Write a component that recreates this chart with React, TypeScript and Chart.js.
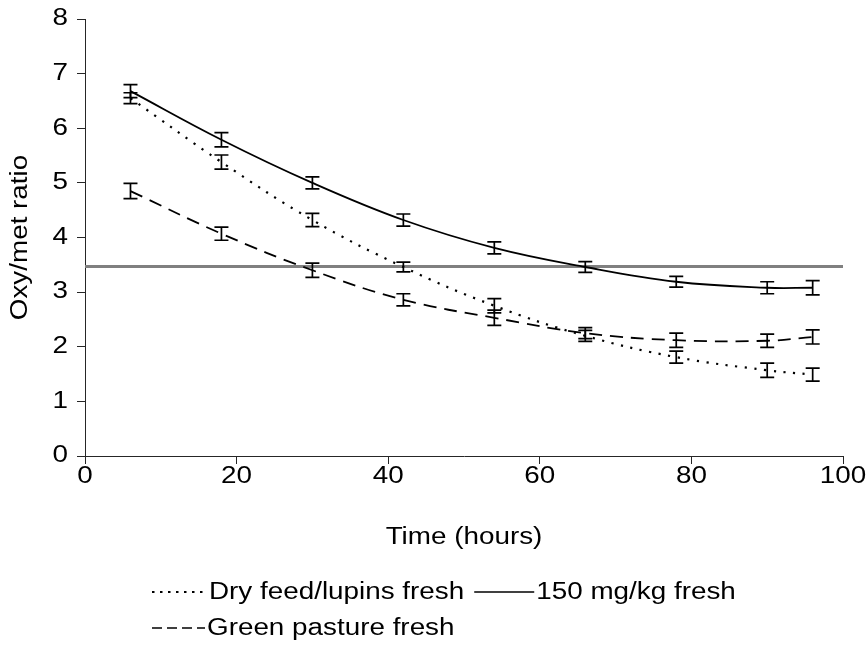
import React, { useEffect, useRef } from "react";
import { Chart, registerables } from "chart.js";

Chart.register(...registerables);

// Sampling times (hours)
const hours = [6, 18, 30, 42, 54, 66, 78, 90, 96];

// Oxy/met ratio per treatment, with standard errors
const dryFeedLupins = [6.55, 5.38, 4.32, 3.46, 2.75, 2.2, 1.81, 1.57, 1.49];
const dryFeedLupinsErr = [0.1, 0.13, 0.12, 0.09, 0.13, 0.1, 0.11, 0.13, 0.12];

const mg150 = [6.68, 5.79, 5.0, 4.32, 3.81, 3.46, 3.19, 3.08, 3.08];
const mg150Err = [0.12, 0.13, 0.11, 0.11, 0.11, 0.1, 0.1, 0.11, 0.13];

const greenPasture = [4.85, 4.07, 3.4, 2.86, 2.53, 2.25, 2.12, 2.11, 2.18];
const greenPastureErr = [0.14, 0.12, 0.13, 0.11, 0.14, 0.1, 0.13, 0.12, 0.13];

// Threshold ratio shown as a reference line
const thresholdRatio = 3.47;

const xTicks = [0, 20, 40, 60, 80, 100];
const yTicks = [0, 1, 2, 3, 4, 5, 6, 7, 8];

const seriesNames = ["Dry feed/lupins fresh", "150 mg/kg fresh", "Green pasture fresh"];
const xTitle = "Time (hours)";
const yTitle = "Oxy/met ratio";

const FONT = '23px "Liberation Sans", Arial, sans-serif';
const STRETCH = 1.21;
const INK = "#000000";
const AXIS = "#262626";

const DOT_DASH = [2.2, 7.5];
const LONG_DASH = [13, 8];

function wideText(
  ctx: CanvasRenderingContext2D,
  text: string,
  x: number,
  y: number,
  align: "left" | "center" | "right",
  rotate = false
) {
  ctx.save();
  ctx.font = FONT;
  ctx.fillStyle = INK;
  ctx.textBaseline = "middle";
  ctx.textAlign = "left";
  const w = ctx.measureText(text).width * STRETCH;
  ctx.translate(x, y);
  if (rotate) ctx.rotate(-Math.PI / 2);
  const start = align === "left" ? 0 : align === "center" ? -w / 2 : -w;
  ctx.translate(start, 0);
  ctx.scale(STRETCH, 1);
  ctx.fillText(text, 0, 0);
  ctx.restore();
  return w;
}

const toPoints = (ys: number[]) => hours.map((h, i) => ({ x: h, y: ys[i] }));

const errorBars = {
  id: "errorBars",
  afterDatasetsDraw(chart: any) {
    const ctx = chart.ctx as CanvasRenderingContext2D;
    const xs = chart.scales.x;
    const ys = chart.scales.y;
    ctx.save();
    ctx.strokeStyle = INK;
    ctx.lineWidth = 1.7;
    ctx.setLineDash([]);
    chart.data.datasets.forEach((ds: any) => {
      if (!ds.errors) return;
      ds.data.forEach((p: any, i: number) => {
        const e = ds.errors[i];
        const px = xs.getPixelForValue(p.x);
        const top = ys.getPixelForValue(p.y + e);
        const bot = ys.getPixelForValue(p.y - e);
        const cap = 7;
        ctx.beginPath();
        ctx.moveTo(px, top);
        ctx.lineTo(px, bot);
        ctx.moveTo(px - cap, top);
        ctx.lineTo(px + cap, top);
        ctx.moveTo(px - cap, bot);
        ctx.lineTo(px + cap, bot);
        ctx.stroke();
      });
    });
    ctx.restore();
  },
};

const axisText = {
  id: "axisText",
  afterDraw(chart: any) {
    const ctx = chart.ctx as CanvasRenderingContext2D;
    const xs = chart.scales.x;
    const ys = chart.scales.y;
    const area = chart.chartArea;
    yTicks.forEach((v) => wideText(ctx, String(v), area.left - 17, ys.getPixelForValue(v), "right"));
    xTicks.forEach((v) => wideText(ctx, String(v), xs.getPixelForValue(v), area.bottom + 21, "center"));
    wideText(ctx, xTitle, (area.left + area.right) / 2, area.bottom + 82, "center");
    wideText(ctx, yTitle, 21, (area.top + area.bottom) / 2, "center", true);
  },
};

const legendBlock = {
  id: "legendBlock",
  afterDraw(chart: any) {
    const ctx = chart.ctx as CanvasRenderingContext2D;
    const sample = (x0: number, x1: number, y: number, dash: number[], width: number) => {
      ctx.save();
      ctx.strokeStyle = INK;
      ctx.lineWidth = width;
      ctx.setLineDash(dash);
      ctx.beginPath();
      ctx.moveTo(x0, y);
      ctx.lineTo(x1, y);
      ctx.stroke();
      ctx.restore();
    };
    const row1 = 592;
    const row2 = 628;
    const left = 152;
    const sampleLen = 55;
    sample(left, left + sampleLen, row1, [2.5, 5.5], 2);
    const w1 = wideText(ctx, seriesNames[0], left + sampleLen + 2, row1 + 1, "left");
    const x2 = left + sampleLen + 2 + w1 + 10;
    sample(x2, x2 + 60, row1, [], 1.6);
    wideText(ctx, seriesNames[1], x2 + 62, row1 + 1, "left");
    sample(left, left + 53, row2, [10, 5], 1.6);
    wideText(ctx, seriesNames[2], left + 55, row2 + 1, "left");
  },
};

export default function App() {
  const ref = useRef<HTMLCanvasElement | null>(null);

  useEffect(() => {
    if (!ref.current) return;
    const chart = new Chart(ref.current, {
      type: "line",
      data: {
        datasets: [
          {
            label: seriesNames[0],
            data: toPoints(dryFeedLupins),
            errors: dryFeedLupinsErr,
            borderColor: INK,
            borderWidth: 2.2,
            borderDash: DOT_DASH,
            pointRadius: 0,
            tension: 0.4,
            order: 1,
          } as any,
          {
            label: seriesNames[1],
            data: toPoints(mg150),
            errors: mg150Err,
            borderColor: INK,
            borderWidth: 1.8,
            pointRadius: 0,
            tension: 0.4,
            order: 1,
          } as any,
          {
            label: seriesNames[2],
            data: toPoints(greenPasture),
            errors: greenPastureErr,
            borderColor: INK,
            borderWidth: 1.8,
            borderDash: LONG_DASH,
            pointRadius: 0,
            tension: 0.4,
            order: 1,
          } as any,
          {
            label: "threshold",
            data: [
              { x: 0, y: thresholdRatio },
              { x: 100, y: thresholdRatio },
            ],
            borderColor: "#808080",
            borderWidth: 3,
            pointRadius: 0,
            tension: 0,
            order: 2,
          },
        ],
      },
      options: {
        responsive: false,
        animation: false,
        devicePixelRatio: 1,
        layout: { padding: { top: 19, right: 25, left: 0, bottom: 0 } },
        plugins: {
          legend: { display: false },
          tooltip: { enabled: false },
        },
        scales: {
          x: {
            type: "linear",
            min: 0,
            max: 100,
            ticks: { stepSize: 20, display: false },
            grid: { drawOnChartArea: false, drawTicks: true, tickLength: 8, color: AXIS, lineWidth: 1 },
            border: { color: AXIS, width: 1 },
            afterFit: (s: any) => {
              s.height = 653 - 456;
            },
          },
          y: {
            type: "linear",
            min: 0,
            max: 8,
            ticks: { stepSize: 1, display: false },
            grid: { drawOnChartArea: false, drawTicks: true, tickLength: 8, color: AXIS, lineWidth: 1 },
            border: { color: AXIS, width: 1 },
            afterFit: (s: any) => {
              s.width = 85;
            },
          },
        },
      },
      plugins: [errorBars, axisText, legendBlock],
    });
    return () => chart.destroy();
  }, []);

  return (
    <div style={{ position: "fixed", left: 0, top: 0, width: 868, height: 653, background: "#fff" }}>
      <canvas ref={ref} width={868} height={653} style={{ display: "block" }} />
    </div>
  );
}
